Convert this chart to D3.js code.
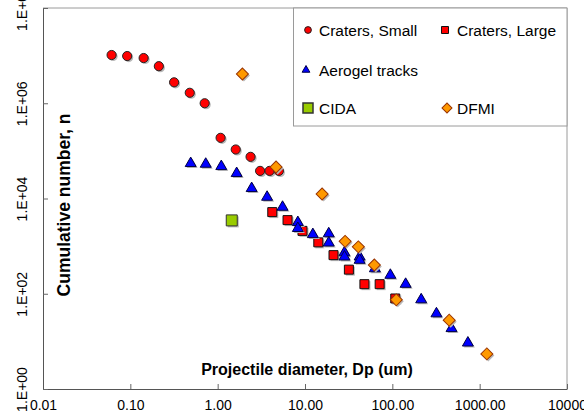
<!DOCTYPE html>
<html>
<head>
<meta charset="utf-8">
<script src="https://cdn.jsdelivr.net/npm/d3@7"></script>
<style>
  body { margin: 0; background: #fff; }
  svg { display: block; font-family: "Liberation Sans", Arial, sans-serif; }
</style>
</head>
<body>
<svg id="chart" width="584" height="416"></svg>
<script>
// projectile diameter (um) and cumulative number
var smallD = [0.061, 0.092, 0.142, 0.212, 0.317, 0.479, 0.71, 1.08, 1.61, 2.38, 3.06, 3.93, 5.02];
var smallN = [1.03e7, 9.8e6, 8.9e6, 6.0e6, 2.75e6, 1.66e6, 1.0e6, 1.88e5, 1.07e5, 7.5e4, 3.8e4, 3.8e4, 3.8e4];
var largeD = [4.22, 6.31, 9.36, 14.2, 21.2, 31.8, 47.9, 71.6, 108];
var largeN = [5180, 3520, 2090, 1200, 647, 321, 159, 159, 79.6];
var aeroD = [0.491, 0.73, 1.10, 1.65, 2.45, 3.68, 5.53, 8.28, 8.28, 12.3, 18.7, 18.7, 28.3, 28.3,
             42.2, 42.2, 63.1, 94.9, 142, 214, 320, 476, 733];
var aeroN = [54600, 52800, 47200, 33700, 16300, 10700, 6600, 3150, 2360, 1760, 1830, 1170, 730, 596,
             596, 508, 337, 246, 159, 75.2, 38.2, 18.7, 9.3];
var cidaD = [1.45];
var cidaN = [3470];
var dfmiD = [1.92, 4.66, 15.7, 28.8, 40.8, 62.2, 111, 448, 1208];
var dfmiN = [4.1e6, 4.57e4, 1.24e4, 1260, 966, 403, 74.5, 27.9, 5.46];

var xTicks = [0.01, 0.1, 1, 10, 100, 1000, 10000];
var xTickLabels = ["0.01", "0.10", "1.00", "10.00", "100.00", "1000.00", "10000"];
var yTicks = [1, 1e2, 1e4, 1e6, 1e8];
var yTickLabels = ["1.E+00", "1.E+02", "1.E+04", "1.E+06", "1.E+08"];
var seriesNames = ["Craters, Small", "Craters, Large", "Aerogel tracks", "CIDA", "DFMI"];

var svg = d3.select("#chart");
var plotLeft = 43, plotRight = 567, plotTop = 8, plotBottom = 389;

var x = d3.scaleLog().domain([0.01, 10000]).range([plotLeft, plotRight]);
var y = d3.scaleLog().domain([1, 1e8]).range([plotBottom, plotTop]);

function zip(ds, ns) {
  return ds.map(function(d, i) { return { d: d, n: ns[i] }; });
}

function sym(type, size, rot) {
  return { path: d3.symbol().type(type).size(size)(), rot: rot || 0 };
}

var series = [
  { name: seriesNames[0], data: zip(smallD, smallN), shape: sym(d3.symbolCircle, 66),
    fill: "#ff0000", stroke: "#222", legend: sym(d3.symbolCircle, 36), lx: 308, ly: 30, tx: 319 },
  { name: seriesNames[1], data: zip(largeD, largeN), shape: sym(d3.symbolSquare, 81),
    fill: "#ff0000", stroke: "#111", legend: sym(d3.symbolSquare, 49), lx: 445, ly: 30, tx: 457 },
  { name: seriesNames[2], data: zip(aeroD, aeroN), shape: sym(d3.symbolTriangle, 52),
    fill: "#0000ff", stroke: "#000044", legend: sym(d3.symbolTriangle, 26), lx: 306, ly: 70, tx: 319 },
  { name: seriesNames[3], data: zip(cidaD, cidaN), shape: sym(d3.symbolSquare, 121),
    fill: "#99cc00", stroke: "#333", legend: sym(d3.symbolSquare, 100), lx: 308, ly: 108, tx: 319 },
  { name: seriesNames[4], data: zip(dfmiD, dfmiN), shape: sym(d3.symbolSquare, 72, 45),
    fill: "#ff9900", stroke: "#993300", legend: sym(d3.symbolSquare, 50, 45), lx: 447, ly: 108, tx: 457 }
];

// minor ticks
var xMinor = [];
[0.01, 0.1, 1, 10, 100, 1000].forEach(function(b) {
  for (var k = 2; k < 10; k++) xMinor.push(b * k);
});
var yMinor = [];
[1, 1e2, 1e4, 1e6].forEach(function(b) {
  [4, 10, 25, 40, 63].forEach(function(k) { yMinor.push(b * k); });
});

// frame (top and right)
svg.append("path")
  .attr("d", "M" + plotLeft + "," + plotTop + "H" + plotRight + "V" + plotBottom)
  .attr("fill", "none").attr("stroke", "#9a9a9a").attr("stroke-width", 1);

// x axis
var gx = svg.append("g").attr("transform", "translate(0," + plotBottom + ")");
gx.call(d3.axisBottom(x).tickValues(xMinor).tickFormat("").tickSizeInner(-4).tickSizeOuter(0));
gx.call(d3.axisBottom(x).tickValues(xTicks)
  .tickFormat(function(d) { return xTickLabels[xTicks.indexOf(d)]; })
  .tickSizeInner(-5).tickSizeOuter(0).tickPadding(11));
gx.selectAll("text").attr("font-size", 14).attr("fill", "#000")
  .attr("font-family", "Liberation Sans, Arial, sans-serif");

// y axis
var gy = svg.append("g").attr("transform", "translate(" + plotLeft + ",0)");
gy.call(d3.axisLeft(y).tickValues(yMinor).tickFormat("").tickSizeInner(-4).tickSizeOuter(0));
gy.call(d3.axisLeft(y).tickValues(yTicks)
  .tickFormat(function(d) { return yTickLabels[yTicks.indexOf(d)]; })
  .tickSizeInner(-5).tickSizeOuter(0));
gy.selectAll("text")
  .attr("x", 0).attr("dy", null)
  .attr("text-anchor", "middle")
  .attr("transform", "translate(-16,0) rotate(-90)")
  .attr("font-size", 14).attr("fill", "#000")
  .attr("font-family", "Liberation Sans, Arial, sans-serif");

svg.selectAll(".domain").attr("stroke", "#555");
svg.selectAll(".tick line").attr("stroke", "#666");

// axis titles
svg.append("text")
  .attr("x", 307).attr("y", 375)
  .attr("text-anchor", "middle")
  .attr("font-size", 16).attr("font-weight", "bold")
  .text("Projectile diameter, Dp (um)");

svg.append("text")
  .attr("transform", "translate(70,205) rotate(-90)")
  .attr("text-anchor", "middle")
  .attr("font-size", 17.5).attr("font-weight", "bold")
  .text("Cumulative number, n");

// data points, with a light drop shadow like the original
series.forEach(function(s) {
  var g = svg.append("g").attr("class", "series");
  g.selectAll("path.shadow")
    .data(s.data)
    .enter()
    .append("path")
    .attr("class", "shadow")
    .attr("d", s.shape.path)
    .attr("transform", function(p) {
      return "translate(" + (x(p.d) + 1.5) + "," + (y(p.n) + 1.5) + ") rotate(" + s.shape.rot + ")";
    })
    .attr("fill", "#b8b8b8");
  g.selectAll("path.mark")
    .data(s.data)
    .enter()
    .append("path")
    .attr("class", "mark")
    .attr("d", s.shape.path)
    .attr("transform", function(p) {
      return "translate(" + x(p.d) + "," + y(p.n) + ") rotate(" + s.shape.rot + ")";
    })
    .attr("fill", s.fill)
    .attr("stroke", s.stroke)
    .attr("stroke-width", 1);
});

// legend
var lg = svg.append("g");
lg.append("rect")
  .attr("x", 293.5).attr("y", plotTop).attr("width", plotRight - 293.5).attr("height", 126 - plotTop)
  .attr("fill", "#fff").attr("stroke", "#9a9a9a");

series.forEach(function(s) {
  lg.append("path")
    .attr("d", s.legend.path)
    .attr("transform", "translate(" + s.lx + "," + s.ly + ") rotate(" + s.legend.rot + ")")
    .attr("fill", s.fill).attr("stroke", s.stroke).attr("stroke-width", s.name == "CIDA" ? 1.5 : 1);
  lg.append("text")
    .attr("x", s.tx).attr("y", s.ly + 5.5)
    .attr("font-size", 15.5)
    .text(s.name);
});
</script>
</body>
</html>
